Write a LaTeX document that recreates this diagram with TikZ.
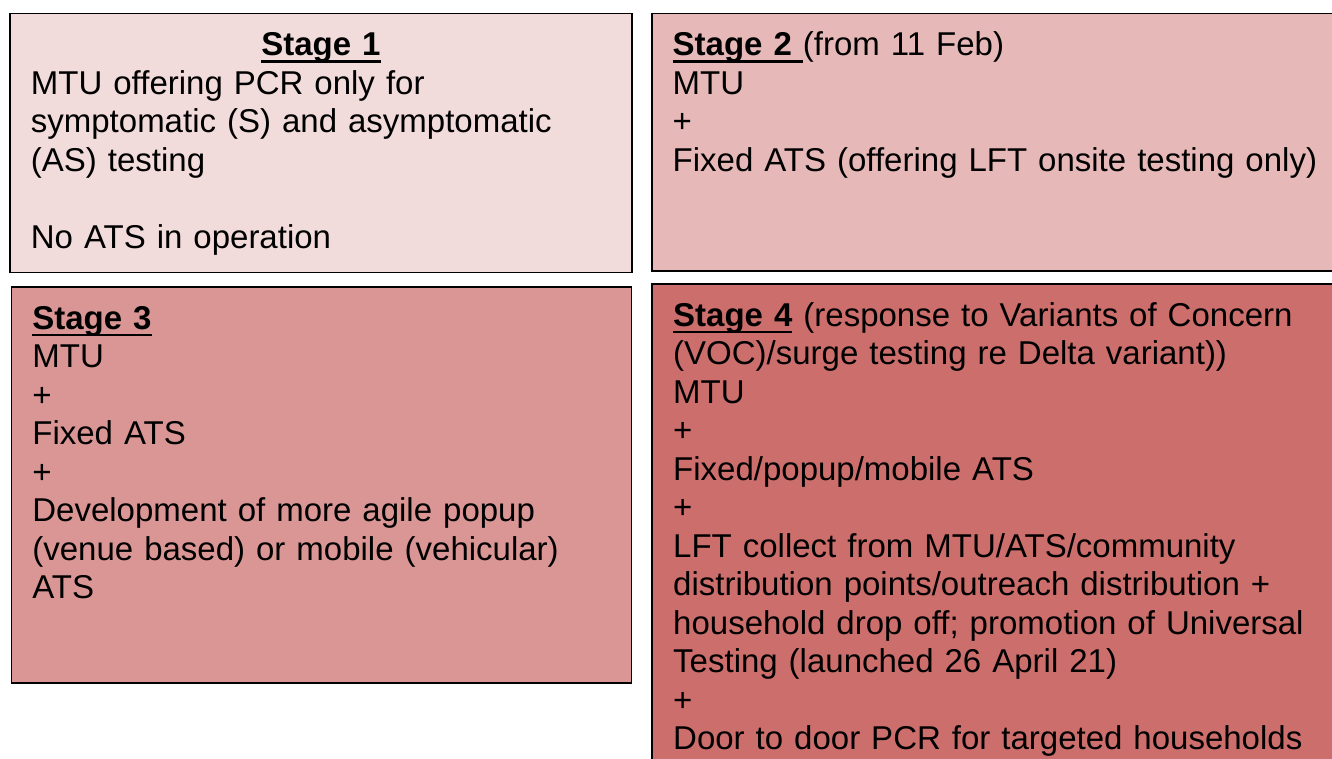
\documentclass[tikz,border=0pt]{standalone}
\usepackage{fontspec}
\setmainfont{Liberation Sans}
\usepackage{tikz}
\usetikzlibrary{positioning}
\definecolor{stageone}{HTML}{F2DCDB}
\definecolor{stagetwo}{HTML}{E6B9B8}
\definecolor{stagethree}{HTML}{D99694}
\definecolor{stagefour}{HTML}{CC6E6B}
\newcommand{\stageline}[1]{\setbox0\hbox{\textbf{#1}}\rlap{\rule[-7pt]{\wd0}{2.6pt}}\box0\relax}

\begin{document}
\begin{tikzpicture}[x=1pt, y=1pt,
  stagebox/.style={rectangle, draw=black, line width=1.8pt, align=left, anchor=north west,
    inner xsep=21pt, inner ysep=0pt, text height=42.5pt,
    font=\fontsize{33}{38.5}\selectfont}]

  \useasboundingbox (0,0) rectangle (1332,-758);

  \node [stagebox, fill=stageone, text width=580pt, text depth=216.5pt] (s1) at (9,-12.5) {
    \makebox[\linewidth]{\stageline{Stage 1}}\\
    MTU offering PCR only for\\
    symptomatic (S) and asymptomatic\\
    (AS) testing\\[38.5pt]
    No ATS in operation
  };

  \node [stagebox, fill=stagetwo, text width=680pt, text depth=215pt, right=18pt of s1.north east, anchor=north west] (s2) {
    \stageline{Stage 2 }(from 11 Feb)\\
    MTU\\
    +\\
    Fixed ATS (offering LFT onsite testing only)
  };

  \node [stagebox, fill=stagethree, text width=578pt, text depth=354pt, below=12.5pt of s1.south west, anchor=north west, xshift=1.5pt] (s3) {
    \stageline{Stage 3}\\
    MTU\\
    +\\
    Fixed ATS\\
    +\\
    Development of more agile popup\\
    (venue based) or mobile (vehicular)\\
    ATS
  };

  \node [stagebox, fill=stagefour, text width=680pt, text depth=470pt, below=11pt of s2.south west, anchor=north west, xshift=0.5pt] (s4) {
    \stageline{Stage 4} (response to Variants of Concern\\
    (VOC)/surge testing re Delta variant))\\
    MTU\\
    +\\
    Fixed/popup/mobile ATS\\
    +\\
    LFT collect from MTU/ATS/community\\
    distribution points/outreach distribution +\\
    household drop off; promotion of Universal\\
    Testing (launched 26 April 21)\\
    +\\
    Door to door PCR for targeted households
  };
\end{tikzpicture}
\end{document}
